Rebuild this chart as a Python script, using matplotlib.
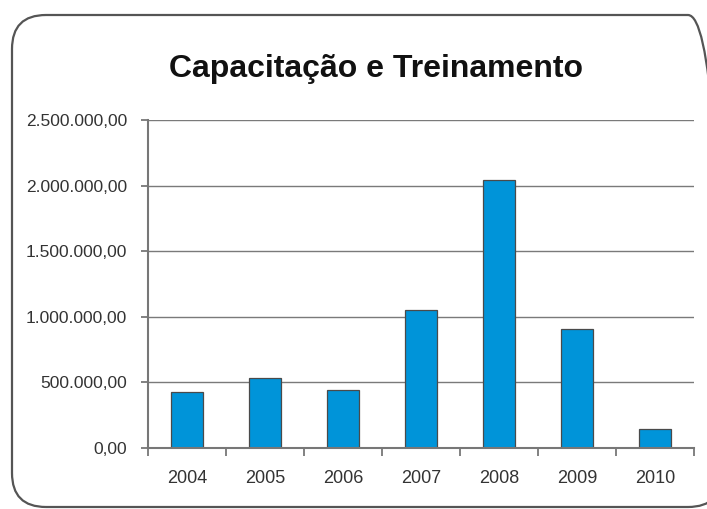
import matplotlib
matplotlib.use("Agg")
import matplotlib.pyplot as plt
import matplotlib.ticker as mticker
from matplotlib.patches import FancyBboxPatch

# Values
anos = ["2004", "2005", "2006", "2007", "2008", "2009", "2010"]
valores = [425000, 534000, 446000, 1051000, 2043000, 904000, 143000]
y_ticks = [0, 500000, 1000000, 1500000, 2000000, 2500000]

plt.rcParams['font.family'] = ['Liberation Sans', 'DejaVu Sans']

W, H = 707, 509
fig = plt.figure(figsize=(W / 100, H / 100), dpi=100)
ax = fig.add_axes([0.2093, 0.1198, 0.7723, 0.6444])

x = list(range(len(anos)))
ax.bar(x, valores, width=0.4, color='#0094d9', edgecolor='#4a4a4a', linewidth=0.9, zorder=3)

ax.set_xlim(-0.5, len(anos) - 0.5)
ax.set_ylim(0, 2500000)
ax.set_yticks(y_ticks)

def br_fmt(v, pos):
    s = f"{v:,.2f}"
    return s.replace(",", "X").replace(".", ",").replace("X", ".")

ax.yaxis.set_major_formatter(mticker.FuncFormatter(br_fmt))
ax.grid(axis='y', color='#7a7a7a', linewidth=1.0, zorder=0)

# category labels at centres, tick marks at boundaries
ax.set_xticks(x)
ax.set_xticklabels(anos)
ax.set_xticks([i - 0.5 for i in range(len(anos) + 1)], minor=True)
ax.tick_params(axis='x', which='major', length=0, pad=16, labelsize=13, labelcolor='#333333')
ax.tick_params(axis='x', which='minor', length=6, width=1.3, color='#777777', direction='out')
ax.tick_params(axis='y', which='major', length=5, width=1.3, color='#777777', pad=10,
               labelsize=12.5, labelcolor='#333333')

for side in ['top', 'right']:
    ax.spines[side].set_visible(False)
for side in ['left', 'bottom']:
    ax.spines[side].set_color('#777777')
    ax.spines[side].set_linewidth(1.5)
    ax.spines[side].set_zorder(4)

fig.text(0.532, 0.864, "Capacitação e Treinamento", ha='center', va='center',
         fontsize=23, fontweight='bold', color='#111111')

# rounded frame around the chart, in figure fraction (right side just off the image)
frame = FancyBboxPatch((12 / W, 2 / H), 710 / W, 492 / H,
                       boxstyle="round,pad=0,rounding_size=%f" % (34 / W),
                       mutation_aspect=W / H, transform=fig.transFigure,
                       facecolor='none', edgecolor='#555555', linewidth=1.6)
fig.add_artist(frame)

fig.savefig("out.png", dpi=100)
